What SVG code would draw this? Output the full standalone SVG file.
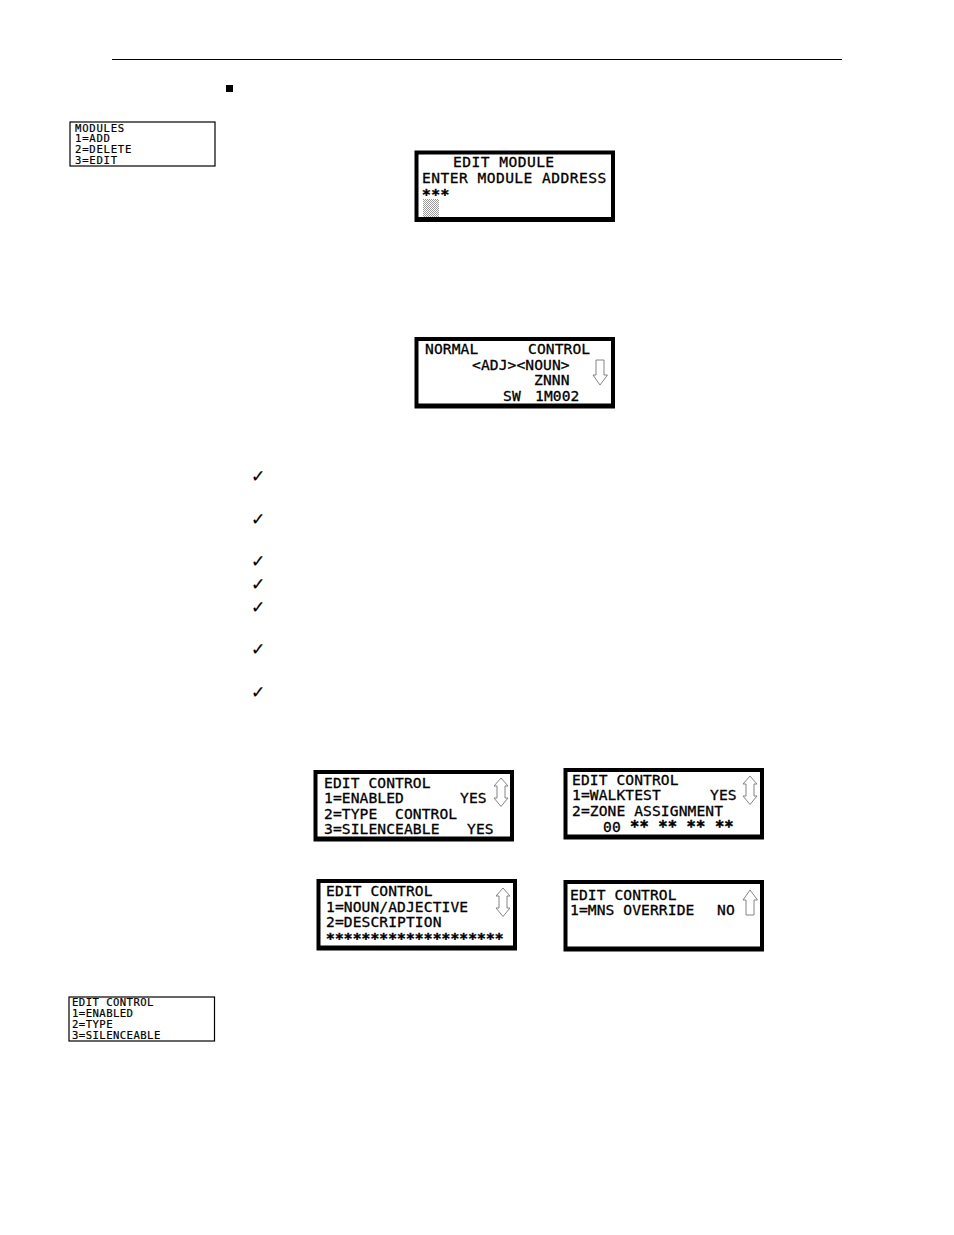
<svg xmlns="http://www.w3.org/2000/svg" width="954" height="1235" viewBox="0 0 954 1235">
<style>
text{font-family:"DejaVu Sans Mono","Liberation Mono",monospace;fill:#000;stroke:#000;stroke-width:.3;white-space:pre}
.lcd{font-size:14.6px;letter-spacing:.1px;transform:translateY(-.7px)}
.lcdw{font-size:14.6px;letter-spacing:.45px;transform:translateY(-.5px)}
.sm{font-size:10.6px;letter-spacing:.45px;stroke-width:.2px}
.star{font-weight:bold;stroke-width:.5}
.thin{fill:#fff;stroke:#000;stroke-width:1.2}
.in{fill:#fff}
.arr{fill:#fff;stroke:#777;stroke-width:.9}
.chk{font-family:"DejaVu Sans",sans-serif;font-size:17px;stroke-width:.2}
</style>
<defs>
<pattern id="dither" width="2" height="2" patternUnits="userSpaceOnUse"><rect width="2" height="2" fill="#fff"/><rect width="1" height="1" fill="#999"/><rect x="1" y="1" width="1" height="1" fill="#999"/></pattern>
<path id="ud" d="M7 0L14 8H11V20H14L7 28.500L0 20H3V8H0Z"/>
<path id="down" d="M3 0H11V15H14.500L7 25L0 15H3Z"/>
<path id="up" d="M7 0L14.500 10H11V25H3V10H0Z"/>
<g id="frame"><rect width="200.500" height="71.500"/><rect class="in" x="4" y="4" width="192.500" height="62.500"/></g>
</defs>
<rect width="954" height="1235" fill="#fff"/>
<line x1="112" y1="59.500" x2="842" y2="59.500" stroke="#000" stroke-width="1"/>
<rect x="226" y="85" width="7" height="7" fill="#000"/>

<g id="menu-modules">
<rect class="thin" x="70" y="122" width="145" height="44"/>
<text class="sm" style="letter-spacing:.75px"><tspan x="75" y="131.500">MODULES</tspan><tspan x="75" y="142">1=ADD</tspan><tspan x="75" y="153">2=DELETE</tspan><tspan x="75" y="163.500">3=EDIT</tspan></text>
</g>

<g id="screen-edit-module">
<use href="#frame" x="414.500" y="150.500"/>
<rect x="423" y="199" width="16" height="18" fill="url(#dither)"/>
<text class="lcdw"><tspan x="453" y="167.500">EDIT MODULE</tspan><tspan x="422" y="183">ENTER MODULE ADDRESS</tspan><tspan class="star" x="422" y="199">***</tspan></text>
</g>

<g id="screen-normal-control">
<use href="#frame" x="414.500" y="337"/>
<text class="lcd"><tspan x="425" y="355">NORMAL</tspan><tspan x="528" y="355">CONTROL</tspan><tspan x="472" y="371">&lt;ADJ&gt;&lt;NOUN&gt;</tspan><tspan x="534" y="386">ZNNN</tspan><tspan x="503" y="402">SW</tspan><tspan x="535" y="402">1M002</tspan></text>
<use href="#down" x="593" y="360" class="arr"/>
</g>

<g id="checks">
<text class="chk"><tspan x="251" y="482">✓</tspan><tspan x="251" y="525">✓</tspan><tspan x="251" y="567">✓</tspan><tspan x="251" y="590">✓</tspan><tspan x="251" y="613">✓</tspan><tspan x="251" y="655">✓</tspan><tspan x="251" y="698">✓</tspan></text>
</g>

<g id="screen-edit-control-1">
<use href="#frame" x="313.500" y="770"/>
<text class="lcd"><tspan x="324" y="789">EDIT CONTROL</tspan><tspan x="324" y="804">1=ENABLED</tspan><tspan x="460" y="804">YES</tspan><tspan x="324" y="820">2=TYPE</tspan><tspan x="395" y="820">CONTROL</tspan><tspan x="324" y="835">3=SILENCEABLE</tspan><tspan x="467" y="835">YES</tspan></text>
<use href="#ud" x="494" y="778" class="arr"/>
</g>

<g id="screen-edit-control-2">
<use href="#frame" x="563.500" y="768"/>
<text class="lcd"><tspan x="572" y="786">EDIT CONTROL</tspan><tspan x="572" y="801">1=WALKTEST</tspan><tspan x="710" y="801">YES</tspan><tspan x="572" y="817">2=ZONE ASSIGNMENT</tspan><tspan x="603" y="833">00</tspan><tspan class="star" x="630" y="833" style="font-size:15.5px">** ** ** **</tspan></text>
<use href="#ud" x="743" y="776" class="arr"/>
</g>

<g id="screen-edit-control-3">
<use href="#frame" x="316.500" y="879"/>
<text class="lcd"><tspan x="326" y="897">EDIT CONTROL</tspan><tspan x="326" y="913">1=NOUN/ADJECTIVE</tspan><tspan x="326" y="928">2=DESCRIPTION</tspan><tspan class="star" x="326" y="944">********************</tspan></text>
<use href="#ud" x="496" y="888" class="arr"/>
</g>

<g id="screen-edit-control-4">
<use href="#frame" x="563.500" y="880"/>
<text class="lcd"><tspan x="570" y="901">EDIT CONTROL</tspan><tspan x="570" y="916">1=MNS OVERRIDE</tspan><tspan x="717" y="916">NO</tspan></text>
<use href="#up" x="743" y="890" class="arr"/>
</g>

<g id="menu-edit-control">
<rect class="thin" x="69" y="997" width="145.500" height="44"/>
<text class="sm"><tspan x="72" y="1006">EDIT CONTROL</tspan><tspan x="72" y="1017">1=ENABLED</tspan><tspan x="72" y="1028">2=TYPE</tspan><tspan x="72" y="1039">3=SILENCEABLE</tspan></text>
</g>
</svg>
